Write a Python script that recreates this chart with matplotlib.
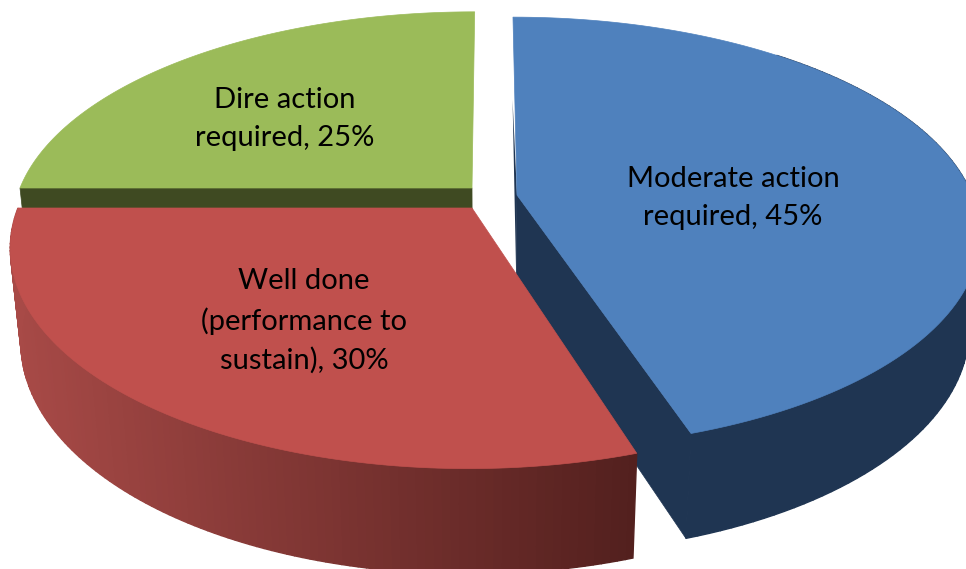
import numpy as np
import matplotlib
matplotlib.use('Agg')
import matplotlib.pyplot as plt
from matplotlib.colors import to_rgb
from matplotlib.patches import Polygon

labels = ['Moderate action\nrequired, 45%', 'Well done\n(performance to\nsustain), 30%', 'Dire action\nrequired, 25%']
values = [45, 30, 25]

colors = ['#4F81BD', '#C0504D', '#9BBB59']
wall_colors = ['#1F3552', '#5A211F', '#3F4A22']

# per slice geometry in pixels: apex x, apex y, half width, depth scale
geom = [(517, 195, 455, 209), (472, 208, 454, 215), (472, 188, 452, 207)]
label_pos = [(733, 198), (304, 321), (285, 119)]

# perspective settings
center_x = 490
p = 0.175
q = 0.022
drop = 95


def project(theta, h, g):
    ax_, ay_, a, b = g
    u, v = np.sin(theta), np.cos(theta)
    w = 1 + p * v + q * h
    return center_x + (ax_ - center_x + a * u) / w, ay_ + (drop * h - b * v) / w


def apex(h, g):
    # centre of the slice, v = 0 so no depth scaling from the angle
    return project(np.pi / 2, h, (g[0], g[1], 0, 0))


def shade(col_a, col_b, t):
    a, b = np.array(to_rgb(col_a)), np.array(to_rgb(col_b))
    return tuple(a + (b - a) * t)


def face(ax, theta, g, color, z):
    xs, ys = project(theta, 0, g)
    pts = [apex(0, g)] + list(zip(xs, ys))
    ax.add_patch(Polygon(pts, closed=True, fc=color, ec=color, lw=0.5, zorder=z))


def side(ax, theta, g, left_c, right_c, z):
    xs, ys = project(theta, 0, g)
    xb, yb = project(theta, 1, g)
    lo, hi = xs.min(), xs.max()
    for i in range(len(theta) - 1):
        t = (xs[i] - lo) / (hi - lo)
        c = shade(left_c, right_c, t)
        quad = [(xs[i], ys[i]), (xs[i + 1], ys[i + 1]), (xb[i + 1], yb[i + 1]), (xb[i], yb[i])]
        ax.add_patch(Polygon(quad, closed=True, fc=c, ec=c, lw=1.0, zorder=z))


def radial_wall(ax, angle, g, color, z):
    ax.add_patch(Polygon([apex(0, g), project(angle, 0, g), project(angle, 1, g), apex(1, g)],
                         closed=True, fc=color, ec=color, lw=0.5, zorder=z))


fig = plt.figure(figsize=(9.66, 5.69), dpi=100)
ax = fig.add_axes([0, 0, 1, 1])
ax.set_xlim(0, 966)
ax.set_ylim(569, 0)
ax.axis('off')

edges = np.cumsum([0] + values) / sum(values) * 2 * np.pi
arcs = [np.linspace(edges[i], edges[i + 1], 120) for i in range(len(values))]

# back to front: green, blue, red
radial_wall(ax, edges[2], geom[2], wall_colors[2], 1)
face(ax, arcs[2], geom[2], colors[2], 2)

# thin sliver of the blue back wall, only the lower rim shows
back = [apex(0, geom[0]), apex(1, geom[0]), project(edges[0], 1, geom[0])]
ax.add_patch(Polygon(back, closed=True, fc=wall_colors[0], ec='none', zorder=3))
radial_wall(ax, edges[1], geom[0], wall_colors[0], 3)
# the rim behind the blue top is hidden, skip the first part of the arc
side(ax, arcs[0][30:], geom[0], wall_colors[0], wall_colors[0], 3)
face(ax, arcs[0], geom[0], colors[0], 6)

side(ax, arcs[1], geom[1], '#A84A47', '#53201E', 4)
face(ax, arcs[1], geom[1], colors[1], 5)

for s, (x, y) in zip(labels, label_pos):
    ax.text(x, y, s, ha='center', va='center', fontsize=21, family='Lato', color='black',
            linespacing=1.56, zorder=10)

fig.savefig('out.png', dpi=100)
